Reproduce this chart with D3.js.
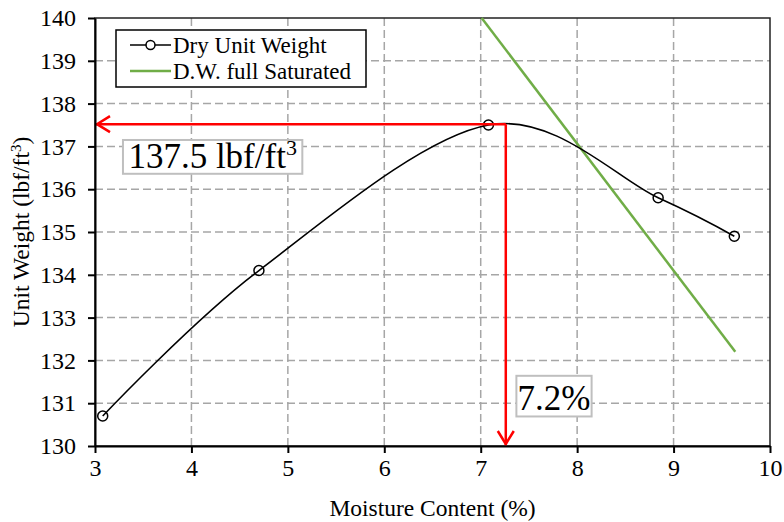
<!DOCTYPE html>
<html>
<head>
<meta charset="utf-8">
<script src="https://cdn.jsdelivr.net/npm/d3@7"></script>
<style>
  body { margin: 0; background: #fff; }
  svg text { font-family: "Liberation Serif", "Times New Roman", serif !important; fill: #000; }
  .axis path, .axis line { stroke: #000; stroke-width: 2; }
  .axis text { font-size: 24px; }
  .grid line { stroke: #a6a6a6; stroke-width: 1.5; stroke-dasharray: 8,4; }
</style>
</head>
<body>
<div id="chart"></div>
<script>
// measured dry unit weight
const moisture = [3.08, 4.70, 7.08, 8.84, 9.63];
const dryWeight = [130.7, 134.1, 137.5, 135.8, 134.9];

// zero air voids line
const satMoisture = [7.01, 9.64];
const satWeight = [140.0, 132.2];

const xTicks = [3, 4, 5, 6, 7, 8, 9, 10];
const yTicks = [130, 131, 132, 133, 134, 135, 136, 137, 138, 139, 140];

// optimum point
const optMoisture = 7.26;
const optWeight = 137.52;
const optWeightLabel = "137.5 lbf/ft";
const optMoistureLabel = "7.2%";

let margin = {top: 18, right: 14, bottom: 76, left: 95};
let width = 784 - margin.left - margin.right;
let height = 522 - margin.top - margin.bottom;

let svg = d3.select("#chart").append("svg")
    .attr("width", 784)
    .attr("height", 522)
    .attr("font-family", "Liberation Serif, serif")
    .append("g")
    .attr("transform", "translate(" + margin.left + "," + margin.top + ")");

let x = d3.scaleLinear().domain([3, 10]).range([0, width]);
let y = d3.scaleLinear().domain([130, 140]).range([height, 0]);

// grid
svg.append("g").attr("class", "grid")
    .selectAll("line").data(yTicks.slice(1, -1)).enter().append("line")
    .attr("x1", 0).attr("x2", width)
    .attr("y1", d => y(d)).attr("y2", d => y(d));
svg.append("g").attr("class", "grid")
    .selectAll("line").data(xTicks.slice(1, -1)).enter().append("line")
    .attr("y1", 0).attr("y2", height)
    .attr("x1", d => x(d)).attr("x2", d => x(d));

// frame
svg.append("rect")
    .attr("width", width).attr("height", height)
    .attr("fill", "none").attr("stroke", "#222").attr("stroke-width", 1.5);

// saturated line
svg.append("path")
    .datum(satMoisture.map((m, i) => [m, satWeight[i]]))
    .attr("fill", "none")
    .attr("stroke", "#70ad47")
    .attr("stroke-width", 2.5)
    .attr("d", d3.line().x(d => x(d[0])).y(d => y(d[1])));

// dry unit weight curve
let pts = moisture.map((m, i) => [m, dryWeight[i]]);
svg.append("path")
    .datum(pts)
    .attr("fill", "none")
    .attr("stroke", "#000")
    .attr("stroke-width", 1.6)
    .attr("d", d3.line().curve(d3.curveCardinal.tension(0)).x(d => x(d[0])).y(d => y(d[1])));

svg.selectAll(".pt").data(pts).enter().append("circle")
    .attr("class", "pt")
    .attr("cx", d => x(d[0])).attr("cy", d => y(d[1]))
    .attr("r", 5)
    .attr("fill", "none").attr("stroke", "#000").attr("stroke-width", 1.5);

// red arrows to the optimum
let red = svg.append("g").attr("fill", "none").attr("stroke", "#ff0000").attr("stroke-width", 2.5);
let ox = x(optMoisture), oy = y(optWeight);
red.append("path").attr("d", `M${ox},${oy}H${x(3) + 1}`);
red.append("path").attr("d", `M${x(3) + 15},${oy - 8}L${x(3) + 2},${oy}L${x(3) + 15},${oy + 8}`);
red.append("path").attr("d", `M${ox},${oy}V${y(130) - 1}`);
red.append("path").attr("d", `M${ox - 8},${y(130) - 15}L${ox},${y(130) - 2}L${ox + 8},${y(130) - 15}`);

// axes
let xAxis = svg.append("g").attr("class", "axis")
    .attr("transform", "translate(0," + height + ")")
    .call(d3.axisBottom(x).tickValues(xTicks).tickFormat(d3.format("d"))
        .tickSize(7).tickSizeOuter(0).tickPadding(6));
let yAxis = svg.append("g").attr("class", "axis")
    .call(d3.axisLeft(y).tickValues(yTicks).tickFormat(d3.format("d"))
        .tickSize(7).tickSizeOuter(0).tickPadding(12));
xAxis.attr("font-family", null).attr("font-size", null);
yAxis.attr("font-family", null).attr("font-size", null);

// axis titles
svg.append("text")
    .attr("x", width / 2).attr("y", height + 70)
    .attr("text-anchor", "middle").style("font-size", "23.5px")
    .text("Moisture Content (%)");
svg.append("text")
    .attr("transform", `translate(${-66},${height / 2}) rotate(-90)`)
    .attr("text-anchor", "middle").style("font-size", "23.5px")
    .html('Unit Weight (lbf/ft<tspan dy="-8" font-size="15">3</tspan><tspan dy="8">)</tspan>');

// annotation boxes
function labelBox(x0, y0, x1, y1, build) {
    let g = svg.append("g");
    g.append("rect")
        .attr("x", x(x0)).attr("y", y(y0))
        .attr("width", x(x1) - x(x0)).attr("height", y(y1) - y(y0))
        .attr("fill", "#fff").attr("stroke", "#bfbfbf").attr("stroke-width", 2);
    let t = g.append("text")
        .attr("x", (x(x0) + x(x1)) / 2).attr("y", y(y1) - 6)
        .attr("text-anchor", "middle").style("font-size", "35px");
    build(t);
}
labelBox(3.29, 137.15, 5.15, 136.36, t => t.html(optWeightLabel + '<tspan dy="-13" font-size="22">3</tspan>'));
labelBox(7.37, 131.64, 8.15, 130.69, t => t.text(optMoistureLabel));

// legend
let legend = svg.append("g").attr("transform", "translate(21,12)");
legend.append("rect")
    .attr("width", 250).attr("height", 57)
    .attr("fill", "#fff").attr("stroke", "#000").attr("stroke-width", 1.5);
legend.append("line").attr("x1", 14).attr("x2", 55).attr("y1", 15).attr("y2", 15)
    .attr("stroke", "#000").attr("stroke-width", 1.6);
legend.append("circle").attr("cx", 34.5).attr("cy", 15).attr("r", 4.5)
    .attr("fill", "#fff").attr("stroke", "#000").attr("stroke-width", 1.5);
legend.append("line").attr("x1", 14).attr("x2", 55).attr("y1", 41).attr("y2", 41)
    .attr("stroke", "#70ad47").attr("stroke-width", 2.5);
legend.append("text").attr("x", 57).attr("y", 23).style("font-size", "23px").text("Dry Unit Weight");
legend.append("text").attr("x", 57).attr("y", 49).style("font-size", "23px").text("D.W. full Saturated");
</script>
</body>
</html>
